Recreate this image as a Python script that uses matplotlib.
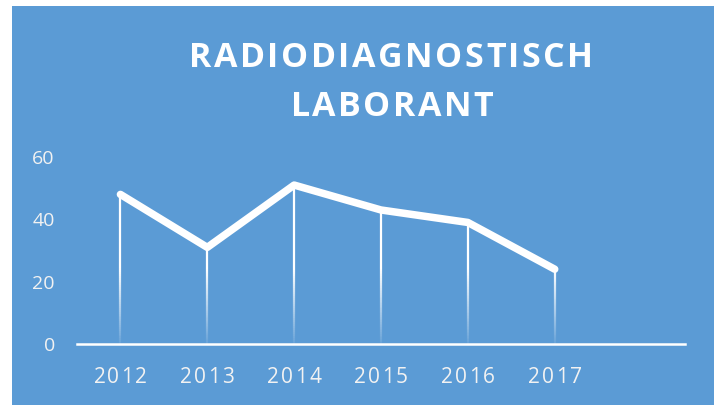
import matplotlib.pyplot as plt
from matplotlib.patches import Rectangle
from matplotlib.collections import LineCollection
import numpy as np

# radiodiagnostisch laborant, counts per year
years = ['2012', '2013', '2014', '2015', '2016', '2017', '']
counts = [48, 31, 51, 43, 39, 24]
yticks = [0, 20, 40, 60]
title_lines = ['RADIODIAGNOSTISCH', 'LABORANT']

bg = '#5b9bd5'
W, H = 721, 405

fig = plt.figure(figsize=(W/100, H/100), dpi=100)
fig.patch.set_facecolor('white')
fig.patches.append(Rectangle((12/W, 0), 702/W, 399/H, transform=fig.transFigure,
                             facecolor=bg, edgecolor='none', zorder=-5))
renderer = fig.canvas.get_renderer()


def spaced_text(s, xc, yb, track, **kw):
    # draw a string char by char with extra tracking (pixels), centred on xc
    widths = []
    for ch in s:
        t = fig.text(0, 0, ch, **kw)
        widths.append(t.get_window_extent(renderer).width)
        t.remove()
    total = sum(widths) + track*(len(s)-1)
    xpos = xc - total/2
    for ch, w in zip(s, widths):
        fig.text(xpos/W, 1 - yb/H, ch, ha='left', va='baseline', **kw)
        xpos += w + track


ax = fig.add_axes([77/W, (H-344)/H, 608/W, 187/H])
ax.set_facecolor('none')

x = np.arange(len(counts))
ax.plot(x, counts, color='white', lw=5.4, solid_capstyle='round',
        solid_joinstyle='round', zorder=3)

# drop lines, white fading out towards the axis
for xi, yi in zip(x, counts):
    ys = np.linspace(0, yi, 80)
    segs = [[(xi, ys[k]), (xi, ys[k+1])] for k in range(len(ys)-1)]
    alpha = np.clip(0.08 + ys[:-1]/26.0, 0, 1)
    cols = [(1, 1, 1, a) for a in alpha]
    ax.add_collection(LineCollection(segs, colors=cols, linewidths=1.6, zorder=2))

ax.set_xlim(-0.5, len(years)-0.5)
ax.set_ylim(0, 60)
ax.set_xticks(range(len(years)))
ax.set_yticks(yticks)
ax.set_xticklabels([])

for s in ['top', 'right', 'left']:
    ax.spines[s].set_visible(False)
ax.spines['bottom'].set_color('white')
ax.spines['bottom'].set_linewidth(1.8)
ax.spines['bottom'].set_zorder(4)

ax.tick_params(axis='both', length=0, colors='#f2f2f2')
ax.tick_params(axis='y', pad=16, labelsize=14)
for lbl in ax.get_yticklabels():
    lbl.set_fontfamily('Open Sans')

# year labels with a little letter spacing
for i, yr in enumerate(years):
    if yr:
        px = ax.transData.transform((i, 0))[0]
        spaced_text(yr, px, 383, 2.0, color='#f2f2f2', fontsize=15, family='Open Sans')

tkw = dict(color='white', fontsize=24.5, fontweight='bold', family='Open Sans')
spaced_text(title_lines[0], 391, 67, 2.5, **tkw)
spaced_text(title_lines[1], 392, 116, 2.5, **tkw)

fig.savefig('out.png', dpi=100, facecolor='white')
